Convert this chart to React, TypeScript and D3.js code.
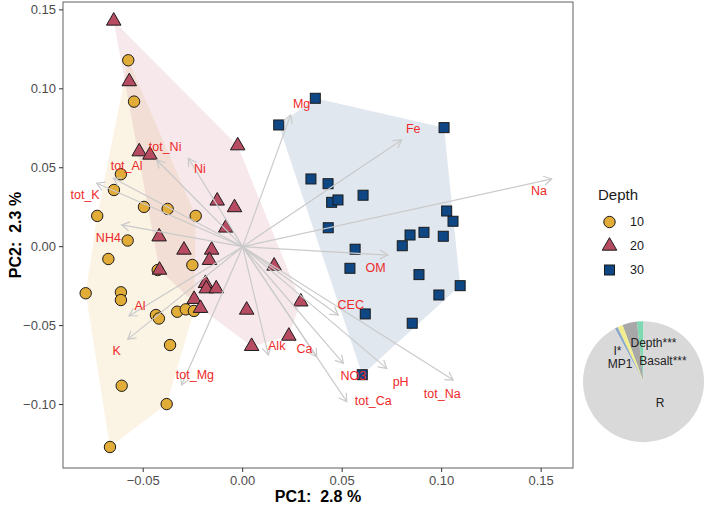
import React from "react";
import * as d3 from "d3";

// sample scores, depth 10
const pc1_10 = [-0.0575, -0.0546, -0.0612, -0.0647, -0.0496, -0.0377, -0.0236, -0.0731, -0.0578, -0.0675, -0.0253, -0.0427,
  -0.0789, -0.0612, -0.0612, -0.0436, -0.0421, -0.0329, -0.0286, -0.0245, -0.0365, -0.0608, -0.0382, -0.0667];
const pc2_10 = [0.1181, 0.0919, 0.0459, 0.0359, 0.0252, 0.0239, 0.0195, 0.0195, 0.0039, -0.0078, -0.0116, -0.0148,
  -0.0295, -0.0289, -0.0338, -0.0433, -0.0455, -0.0412, -0.0397, -0.0407, -0.0623, -0.0881, -0.0997, -0.1269];

// depth 20
const pc1_20 = [-0.0648, -0.057, -0.052, -0.0466, -0.0025, -0.0128, -0.0041, -0.0085, -0.042, -0.0295, -0.0156, -0.0167,
  -0.0418, 0.0158, -0.0187, -0.0183, -0.0133, -0.0244, -0.0212, 0.002, 0.0292, 0.0232, 0.0045];
const pc2_20 = [0.143, 0.1046, 0.0602, 0.0581, 0.064, 0.029, 0.0248, 0.0119, 0.0063, -0.0021, -0.0021, -0.0086,
  -0.0148, -0.0122, -0.0232, -0.0266, -0.0266, -0.0333, -0.039, -0.0401, -0.0349, -0.0566, -0.0631];

// depth 30
const pc1_30 = [0.0365, 0.0181, 0.1012, 0.0343, 0.0429, 0.0447, 0.0479, 0.0605, 0.043, 0.1025, 0.1057, 0.0911,
  0.0841, 0.1008, 0.0802, 0.0565, 0.0539, 0.0886, 0.0986, 0.1093, 0.0616, 0.0852, 0.0601];
const pc2_30 = [0.094, 0.0771, 0.0754, 0.0429, 0.0399, 0.0281, 0.0296, 0.0326, 0.012, 0.0226, 0.0161, 0.0091,
  0.0074, 0.0066, 0.0006, -0.0016, -0.0137, -0.0177, -0.0306, -0.0247, -0.0426, -0.0485, -0.0811];

// environmental vectors
const envNames = ["Mg", "Fe", "Na", "OM", "CEC", "pH", "tot_Na", "NO3", "tot_Ca", "Ca", "Alk", "tot_Mg", "K", "Al",
  "NH4", "tot_K", "tot_Al", "tot_Ni", "Ni"];
const envPC1 = [0.0241, 0.0799, 0.1553, 0.0729, 0.048, 0.0724, 0.1058, 0.0506, 0.0523, 0.0372, 0.0129, -0.0307,
  -0.0578, -0.0571, -0.0608, -0.0734, -0.065, -0.0432, -0.0273];
const envPC2 = [0.0835, 0.0676, 0.0429, -0.0053, -0.0433, -0.0771, -0.0845, -0.0739, -0.0982, -0.0697, -0.0686,
  -0.0876, -0.0587, -0.0439, 0.0138, 0.0402, 0.0433, 0.0549, 0.056];
const envLabPC1 = [0.0296, 0.0857, 0.1489, 0.0668, 0.0543, 0.0794, 0.1003, 0.0556, 0.0656, 0.031, 0.0171, -0.024,
  -0.0633, -0.0516, -0.0675, -0.0792, -0.0583, -0.039, -0.0215];
const envLabPC2 = [0.0909, 0.0746, 0.0355, -0.0131, -0.0365, -0.0856, -0.0929, -0.0819, -0.0978, -0.0644, -0.0629,
  -0.0811, -0.0659, -0.0374, 0.0055, 0.0332, 0.0513, 0.0634, 0.0497];

const xTicks = [-0.05, 0, 0.05, 0.1, 0.15];
const yTicks = [-0.1, -0.05, 0, 0.05, 0.1, 0.15];

const depthLevels = ["10", "20", "30"];

// variance partitioning pie (counter-clockwise from 12 o'clock)
const pieNames = ["Basalt***", "Depth***", "MP1", "I*", "R"];
const pieValues = [0.0175, 0.039, 0.014, 0.008, 0.9215];

const groupFill = ["#E2AC38", "#B64B61", "#0E4784"];
const pieFill = ["#7ED8B2", "#A8A8A8", "#F2EE8E", "#8EAACB", "#D9D9D9"];
// label offsets from pie centre (px)
const pieLabelPos: [number, number][] = [[19.5, -20.5], [10, -39], [-23.5, -18], [-26, -31], [16.5, 21.5]];

const font = "'Liberation Sans', Arial, Helvetica, sans-serif";

const x = d3.scaleLinear().domain([-0.0903, 0.166]).range([63, 573]);
const y = d3.scaleLinear().domain([-0.1402, 0.155]).range([468, 2]);
const fmt = d3.format(".2f");

function Marker({ g, cx, cy }: { g: number; cx: number; cy: number }) {
  const stroke = "#1b1b1b";
  if (g === 0) return <circle cx={cx} cy={cy} r={5.7} fill={groupFill[0]} stroke={stroke} strokeWidth={1} />;
  if (g === 1) {
    const s = 14.5, h = (s * Math.sqrt(3)) / 2;
    const d = `M${cx},${cy - (2 * h) / 3}L${cx + s / 2},${cy + h / 3}L${cx - s / 2},${cy + h / 3}Z`;
    return <path d={d} fill={groupFill[1]} stroke={stroke} strokeWidth={1} />;
  }
  return <rect x={cx - 5} y={cy - 5} width={10} height={10} fill={groupFill[2]} stroke={stroke} strokeWidth={1} />;
}

export default function App() {
  const groups = [
    { xs: pc1_10, ys: pc2_10 },
    { xs: pc1_20, ys: pc2_20 },
    { xs: pc1_30, ys: pc2_30 },
  ];

  const hulls = groups.map((g) => {
    const pts = g.xs.map((v, i) => [x(v), y(g.ys[i])] as [number, number]);
    const hull = d3.polygonHull(pts);
    return hull ? "M" + hull.map((p) => p.join(",")).join("L") + "Z" : "";
  });

  const ox = x(0), oy = y(0);
  const arrowLen = 9;

  const pieCx = 643.5, pieCy = 381.7, pieR = 60.5;
  const arcs = d3.pie<number>().sort(null).startAngle(0).endAngle(-2 * Math.PI)(pieValues);
  const arcGen = d3.arc<d3.PieArcDatum<number>>().innerRadius(0).outerRadius(pieR);

  return (
    <svg width={709} height={505} style={{ position: "absolute", left: 0, top: 0, background: "#fff" }} fontFamily={font}>
      {/* hulls */}
      {hulls.map((d, i) => (
        <path key={"h" + i} d={d} fill={groupFill[i]} fillOpacity={0.13} stroke="none" />
      ))}

      {/* points */}
      {groups.map((g, gi) =>
        g.xs.map((v, i) => <Marker key={gi + "-" + i} g={gi} cx={x(v)} cy={y(g.ys[i])} />)
      )}

      {/* env arrows */}
      {envNames.map((n, i) => {
        const tx = x(envPC1[i]), ty = y(envPC2[i]);
        const a = Math.atan2(ty - oy, tx - ox);
        const p1 = [tx - arrowLen * Math.cos(a - Math.PI / 6), ty - arrowLen * Math.sin(a - Math.PI / 6)];
        const p2 = [tx - arrowLen * Math.cos(a + Math.PI / 6), ty - arrowLen * Math.sin(a + Math.PI / 6)];
        return (
          <g key={"a" + n} stroke="#cacaca" strokeWidth={1.2} fill="none">
            <line x1={ox} y1={oy} x2={tx} y2={ty} />
            <polyline points={`${p1[0]},${p1[1]} ${tx},${ty} ${p2[0]},${p2[1]}`} />
          </g>
        );
      })}
      {envNames.map((n, i) => (
        <text key={"l" + n} x={x(envLabPC1[i])} y={y(envLabPC2[i])} dy="0.35em" textAnchor="middle" fontSize={12.5} fill="#EE2A2A">
          {n}
        </text>
      ))}

      {/* panel border */}
      <rect x={63} y={2} width={510} height={466} fill="none" stroke="#6e6e6e" strokeWidth={1.1} />

      {/* axes */}
      {xTicks.map((t) => (
        <g key={"xt" + t}>
          <line x1={x(t)} x2={x(t)} y1={468} y2={472} stroke="#333" strokeWidth={1} />
          <text x={x(t)} y={485} textAnchor="middle" fontSize={13} fill="#4d4d4d">{fmt(t)}</text>
        </g>
      ))}
      {yTicks.map((t) => (
        <g key={"yt" + t}>
          <line x1={59} x2={63} y1={y(t)} y2={y(t)} stroke="#333" strokeWidth={1} />
          <text x={56} y={y(t)} dy="0.35em" textAnchor="end" fontSize={13} fill="#4d4d4d">{fmt(t)}</text>
        </g>
      ))}
      <text x={318} y={502} textAnchor="middle" fontSize={16} fontWeight="bold" style={{ whiteSpace: "pre" }}>
        {"PC1:  2.8 %"}
      </text>
      <text transform="translate(21,235) rotate(-90)" textAnchor="middle" fontSize={16} fontWeight="bold" style={{ whiteSpace: "pre" }}>
        {"PC2:  2.3 %"}
      </text>

      {/* legend */}
      <text x={598} y={200} fontSize={15} fill="#1a1a1a">Depth</text>
      {depthLevels.map((lv, i) => {
        const ly = 222 + i * 24;
        return (
          <g key={"lg" + lv}>
            <Marker g={i} cx={609.5} cy={ly} />
            <text x={630} y={ly} dy="0.35em" fontSize={12.5} fill="#1a1a1a">{lv}</text>
          </g>
        );
      })}

      {/* pie */}
      <g transform={`translate(${pieCx},${pieCy})`}>
        {arcs.map((a, i) => (
          <path key={"p" + i} d={arcGen(a) || ""} fill={pieFill[i]} />
        ))}
        {pieNames.map((n, i) => (
          <text key={"pl" + n} x={pieLabelPos[i][0]} y={pieLabelPos[i][1]} dy="0.35em" textAnchor="middle" fontSize={12} fill="#222">
            {n}
          </text>
        ))}
      </g>
    </svg>
  );
}
